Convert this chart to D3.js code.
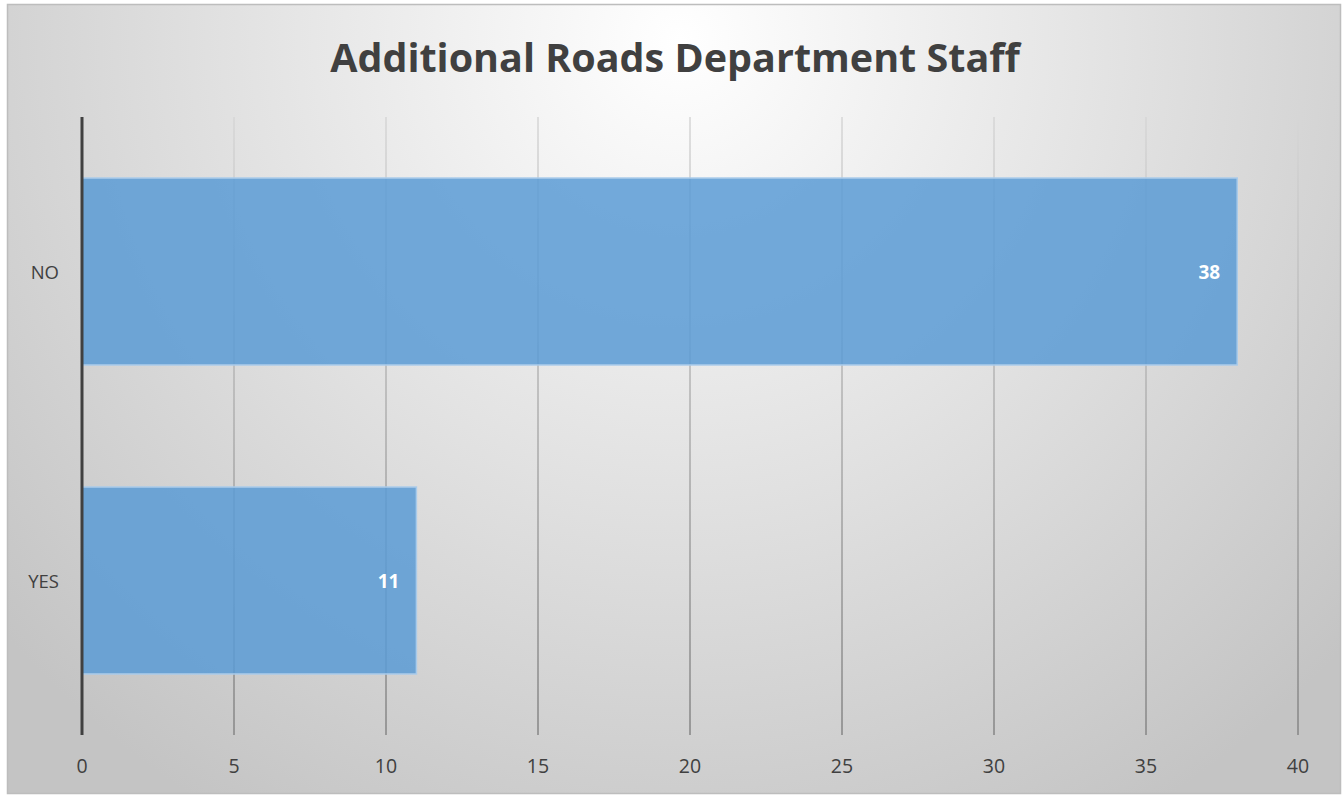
<!DOCTYPE html>
<html>
<head>
<meta charset="utf-8">
<script src="https://cdn.jsdelivr.net/npm/d3@7"></script>
<style>
  body { margin: 0; background: #fff; }
  text { font-family: "Open Sans", "Noto Sans", sans-serif; }
</style>
</head>
<body>
<script>
// chart data
var categories = ["NO", "YES"];
var values = [38, 11];
var xTicks = [0, 5, 10, 15, 20, 25, 30, 35, 40];
var title = "Additional Roads Department Staff";

var W = 1343, H = 795;
var plot = {left: 82, right: 1298, top: 117, bottom: 735};

var svg = d3.select("body").append("svg")
    .attr("width", W)
    .attr("height", H);

var defs = svg.append("defs");
var bg = defs.append("radialGradient")
    .attr("id", "bg")
    .attr("gradientUnits", "userSpaceOnUse")
    .attr("cx", 680).attr("cy", 40).attr("r", 900);
bg.append("stop").attr("offset", "0%").attr("stop-color", "#ffffff");
bg.append("stop").attr("offset", "100%").attr("stop-color", "#c4c4c4");

var gridGrad = defs.append("linearGradient")
    .attr("id", "grid")
    .attr("gradientUnits", "userSpaceOnUse")
    .attr("x1", 0).attr("y1", plot.top).attr("x2", 0).attr("y2", plot.bottom);
gridGrad.append("stop").attr("offset", "0%").attr("stop-color", "#d6d6d6");
gridGrad.append("stop").attr("offset", "100%").attr("stop-color", "#858585");

svg.append("rect")
    .attr("x", 7.5).attr("y", 4.5)
    .attr("width", 1333).attr("height", 789)
    .attr("fill", "url(#bg)")
    .attr("stroke", "#bdbdbd")
    .attr("stroke-width", 1.5);

svg.append("text")
    .attr("x", 675).attr("y", 72)
    .attr("text-anchor", "middle")
    .attr("font-size", 39.5)
    .attr("font-weight", "bold")
    .attr("fill", "#404040")
    .text(title);

var x = d3.scaleLinear().domain([0, 40]).range([plot.left, plot.right]);
var y = d3.scaleBand().domain(categories).range([plot.top, plot.bottom]).paddingInner(0.395).paddingOuter(0.1975);

// gridlines
svg.append("g")
    .selectAll("line")
    .data(xTicks.filter(function(d){ return d > 0; }))
    .enter().append("line")
    .attr("x1", function(d){ return x(d); })
    .attr("x2", function(d){ return x(d); })
    .attr("y1", plot.top).attr("y2", plot.bottom)
    .attr("stroke", "url(#grid)")
    .attr("stroke-width", 1.5);

// bars
svg.append("g")
    .selectAll("rect")
    .data(values)
    .enter().append("rect")
    .attr("x", x(0))
    .attr("y", function(d, i){ return y(categories[i]); })
    .attr("width", function(d){ return x(d) - x(0); })
    .attr("height", y.bandwidth())
    .attr("fill", "rgba(91,155,213,0.85)")
    .attr("stroke", "#a9cbea")
    .attr("stroke-width", 1.5);

// value labels
svg.append("g")
    .selectAll("text")
    .data(values)
    .enter().append("text")
    .attr("x", function(d){ return x(d) - 17; })
    .attr("y", function(d, i){ return y(categories[i]) + y.bandwidth() / 2 + 7.5; })
    .attr("text-anchor", "end")
    .attr("font-size", 19)
    .attr("font-weight", "bold")
    .attr("fill", "#ffffff")
    .text(function(d){ return d; });

// zero axis line
svg.append("line")
    .attr("x1", x(0)).attr("x2", x(0))
    .attr("y1", plot.top).attr("y2", plot.bottom)
    .attr("stroke", "#404040")
    .attr("stroke-width", 3);

// category labels
svg.append("g")
    .selectAll("text")
    .data(categories)
    .enter().append("text")
    .attr("x", 59)
    .attr("y", function(d){ return y(d) + y.bandwidth() / 2 + 7; })
    .attr("text-anchor", "end")
    .attr("font-size", 18.5)
    .attr("fill", "#404040")
    .text(function(d){ return d; });

// x tick labels
svg.append("g")
    .selectAll("text")
    .data(xTicks)
    .enter().append("text")
    .attr("x", function(d){ return x(d); })
    .attr("y", 773)
    .attr("text-anchor", "middle")
    .attr("font-size", 19.5)
    .attr("fill", "#404040")
    .text(function(d){ return d; });
</script>
</body>
</html>
